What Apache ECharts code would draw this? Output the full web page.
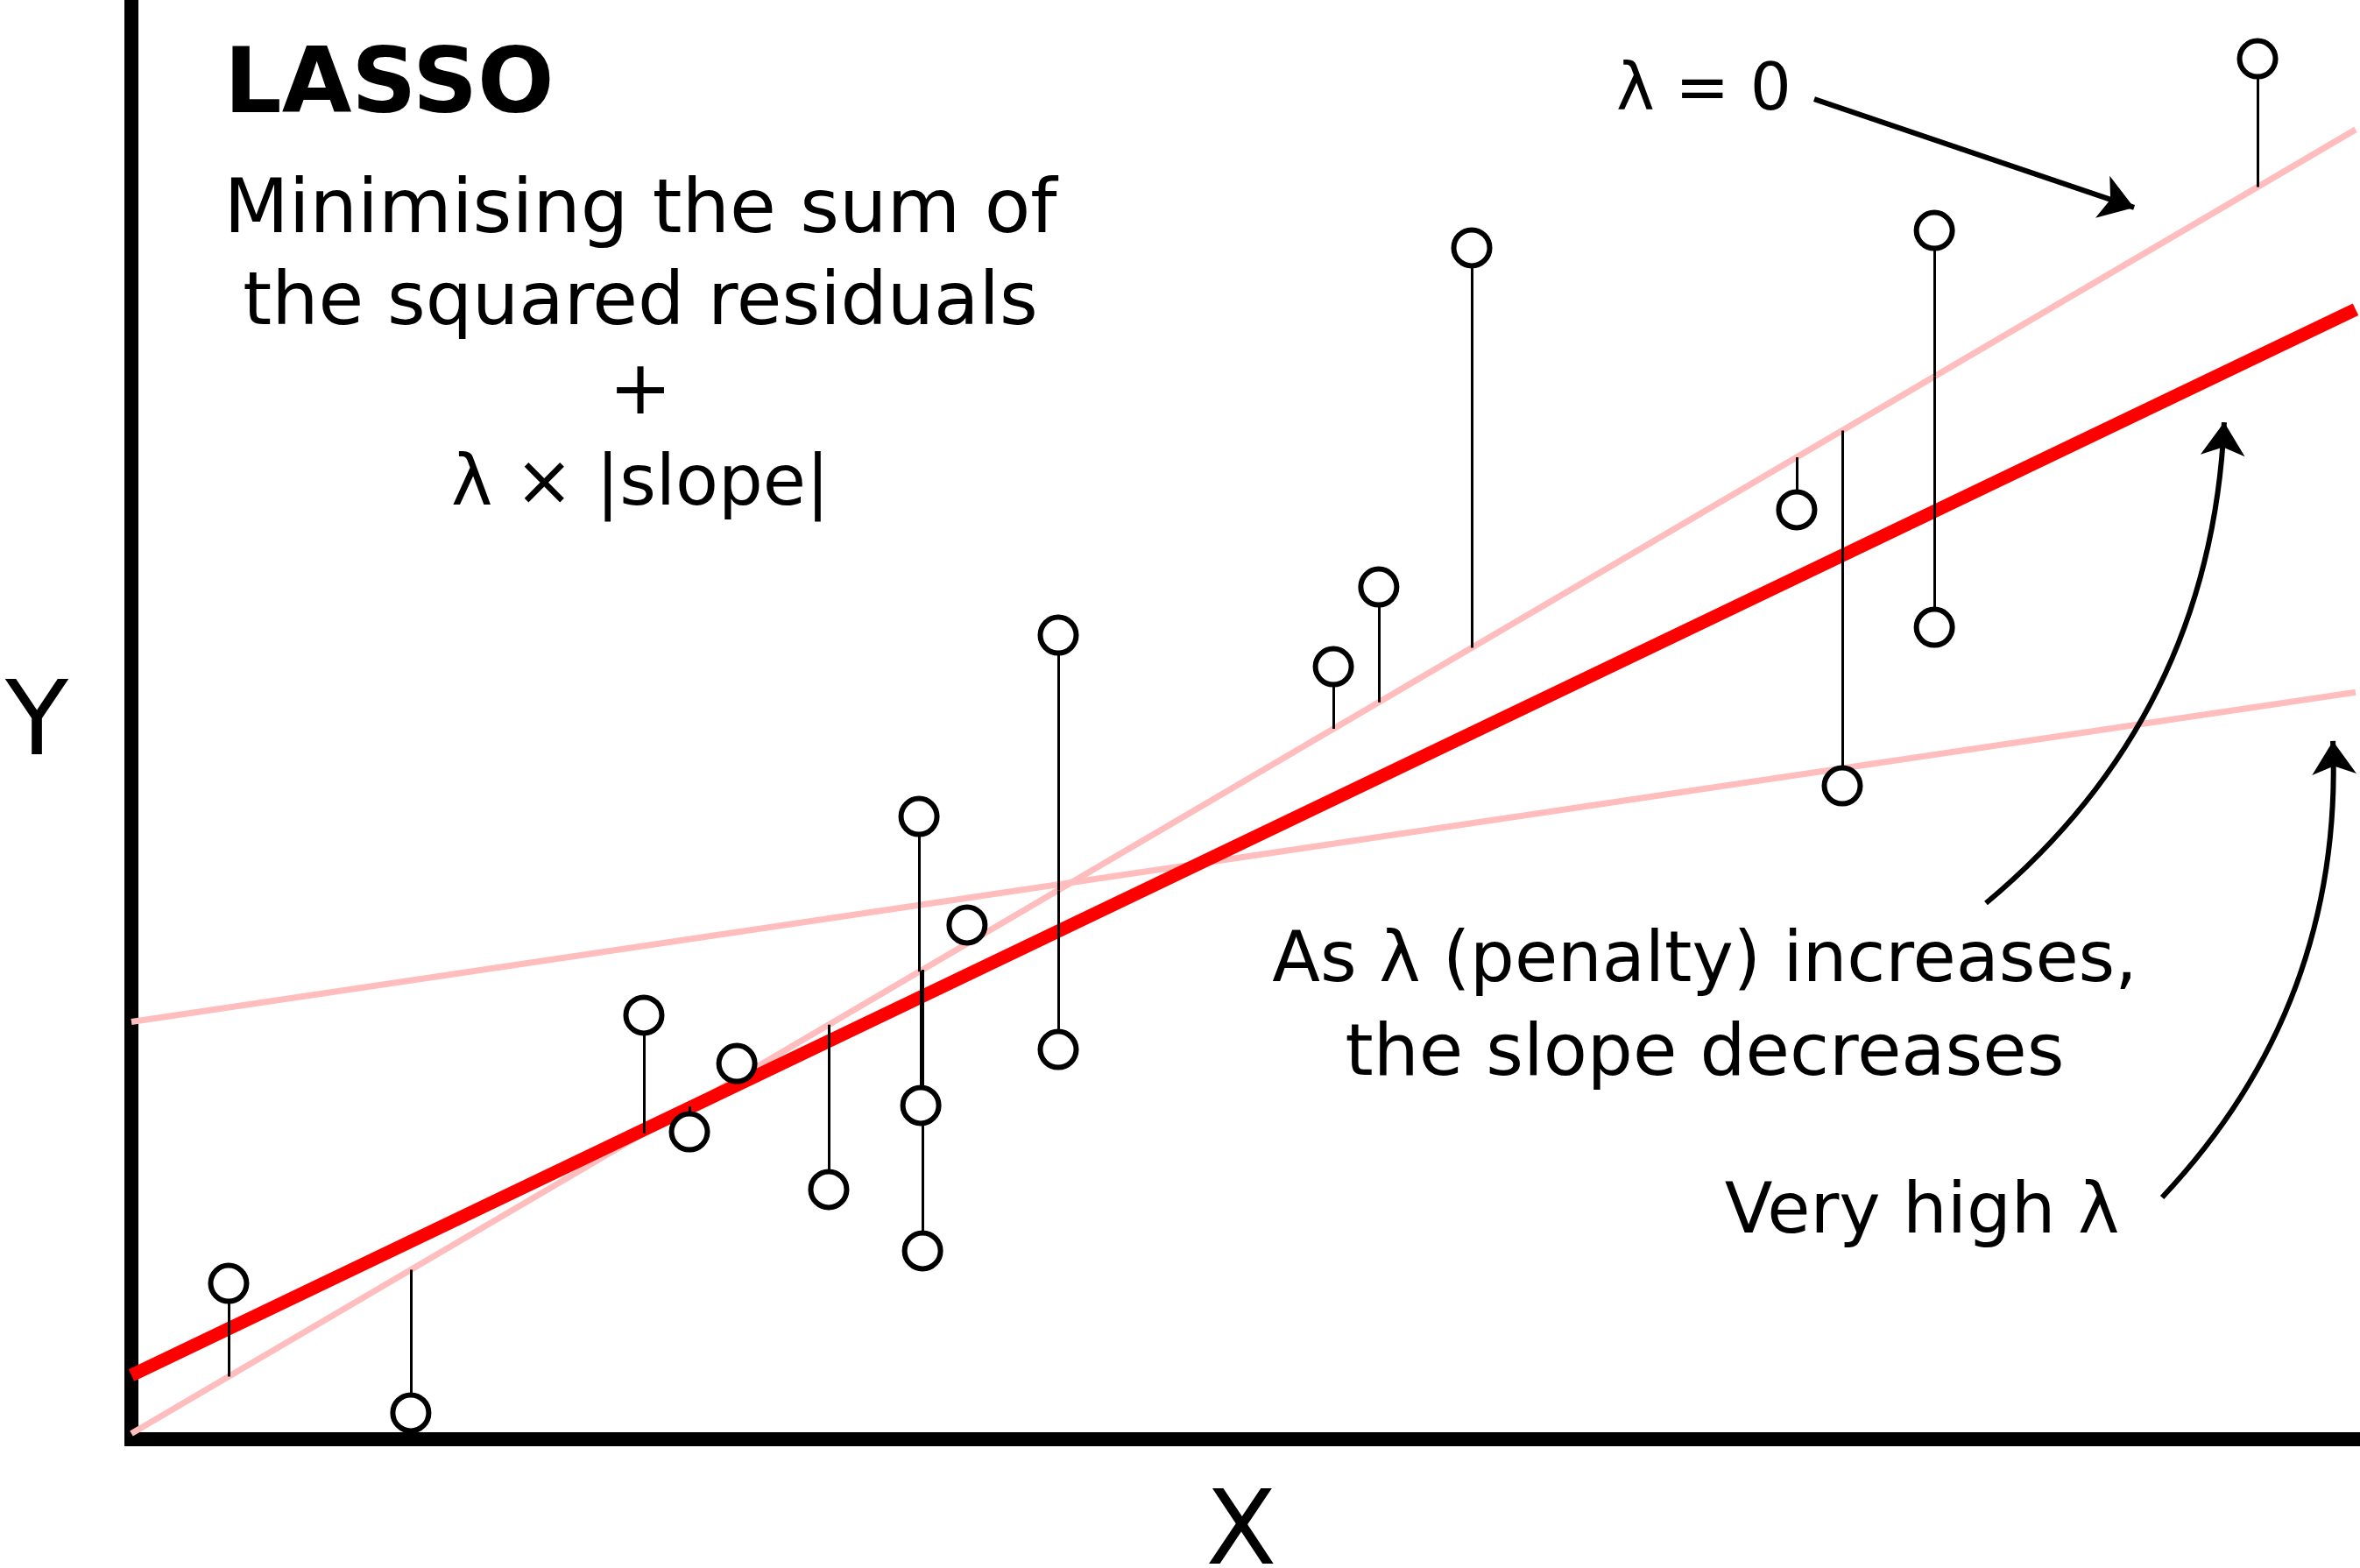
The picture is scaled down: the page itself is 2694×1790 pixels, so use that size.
<!DOCTYPE html>
<html><head><meta charset="utf-8">
<script src="https://cdn.jsdelivr.net/npm/echarts@6.0.0/dist/echarts.min.js"></script>
<style>html,body{margin:0;padding:0;background:#fff}#chart{width:2694px;height:1790px}</style>
</head><body><div id="chart"></div>
<script>
// ---- data (arbitrary units, 0..100 on both axes) ----
const pointX = [4.37,12.56,23.04,25.09,27.22,31.35,35.41,35.49,35.57,37.57,41.67,41.67,54.04,56.08,60.26,74.87,76.92,81.06,81.06,95.59];
const pointY = [10.83,1.83,29.46,21.36,26.11,17.35,43.27,23.19,13.09,35.73,55.87,27.08,53.68,59.22,82.78,64.58,45.40,83.99,56.42,95.92];
const lineX = [0, 100];
const olsY = [0.4, 91.0];          // λ = 0 (least squares)
const lassoY = [4.44, 78.5];       // LASSO fit
const highLambdaY = [29.0, 51.9];  // very high λ
const arrowZero = [[75.66, 93.12], [90.04, 85.58]];
const arrowPenalty = [[83.38, 37.25], [94.09, 70.66]];
const arrowHigh = [[91.30, 16.80], [98.98, 48.51]];
const titleText = 'LASSO';
const formulaLines = ['Minimising the sum of', 'the squared residuals', '+', 'λ × |slope|'];
const noteLines = ['As λ (penalty) increases,', 'the slope decreases'];
const zeroLabel = 'λ = 0';
const highLabel = 'Very high λ';

const FONT = "'DejaVu Sans', sans-serif";
function olsAt(x) { return olsY[0] + (olsY[1] - olsY[0]) * (x - lineX[0]) / (lineX[1] - lineX[0]); }
const scatterData = pointX.map((x, i) => [x, pointY[i]]);
const residualData = pointX.map((x, i) => ({ coords: [[x, pointY[i]], [x, olsAt(x)]] }));
const mkLine = ys => lineX.map((x, i) => [x, ys[i]]);

const chart = echarts.init(document.getElementById('chart'), null, { renderer: 'canvas' });
const textEl = (text, x, y, size, align, weight) => ({
  type: 'text', x: x, y: y, z: 100,
  style: { text: text, font: (weight || 'normal') + ' ' + size + 'px ' + FONT, fill: '#000', textAlign: align, textVerticalAlign: 'middle' }
});
const formulaY = [243, 348, 450, 555];
const formulaSize = [86, 84, 86, 80];
chart.setOption({
  backgroundColor: '#fff',
  animation: false,
  grid: { left: 150, right: 5, top: 0, bottom: 147, containLabel: false },
  xAxis: { type: 'value', min: 0, max: 100, axisLine: { show: true, onZero: false, lineStyle: { color: '#000', width: 16, cap: 'square' } },
    axisTick: { show: false }, axisLabel: { show: false }, splitLine: { show: false } },
  yAxis: { type: 'value', min: 0, max: 100, axisLine: { show: true, onZero: false, lineStyle: { color: '#000', width: 16, cap: 'square' } },
    axisTick: { show: false }, axisLabel: { show: false }, splitLine: { show: false } },
  series: [
    { type: 'line', data: mkLine(olsY), showSymbol: false, z: 1, lineStyle: { color: '#ffbdbd', width: 7 } },
    { type: 'line', data: mkLine(highLambdaY), showSymbol: false, z: 1, lineStyle: { color: '#ffbdbd', width: 7 } },
    { type: 'line', data: mkLine(lassoY), showSymbol: false, z: 2, lineStyle: { color: '#ff0000', width: 15 } },
    { type: 'lines', coordinateSystem: 'cartesian2d', z: 3, data: residualData, symbol: 'none',
      lineStyle: { color: '#000', width: 3, opacity: 1, curveness: 0 } },
    { type: 'scatter', data: scatterData, z: 4, symbol: 'circle', symbolSize: 41,
      itemStyle: { color: '#fff', borderColor: '#000', borderWidth: 6, opacity: 1 } },
    { type: 'lines', coordinateSystem: 'cartesian2d', z: 5, symbol: ['none', 'arrow'], symbolSize: 38,
      lineStyle: { color: '#000', width: 6, opacity: 1 },
      data: [
        { coords: arrowZero, lineStyle: { curveness: 0 } },
        { coords: arrowPenalty, lineStyle: { curveness: -0.22 } },
        { coords: arrowHigh, lineStyle: { curveness: -0.21 } }
      ] }
  ],
  graphic: [
    textEl(titleText, 256, 101, 103, 'left', 'bold'),
    ...formulaLines.map((t, i) => textEl(t, 731, formulaY[i], formulaSize[i], 'center')),
    textEl(zeroLabel, 1845, 106, 74, 'left'),
    textEl(noteLines[0], 1946, 1099, 80, 'center'),
    textEl(noteLines[1], 1946, 1206, 82, 'center'),
    textEl(highLabel, 2194, 1386, 80, 'center'),
    textEl('Y', 42, 830, 118, 'center'),
    textEl('X', 1417, 1754, 118, 'center')
  ]
});
</script></body></html>
